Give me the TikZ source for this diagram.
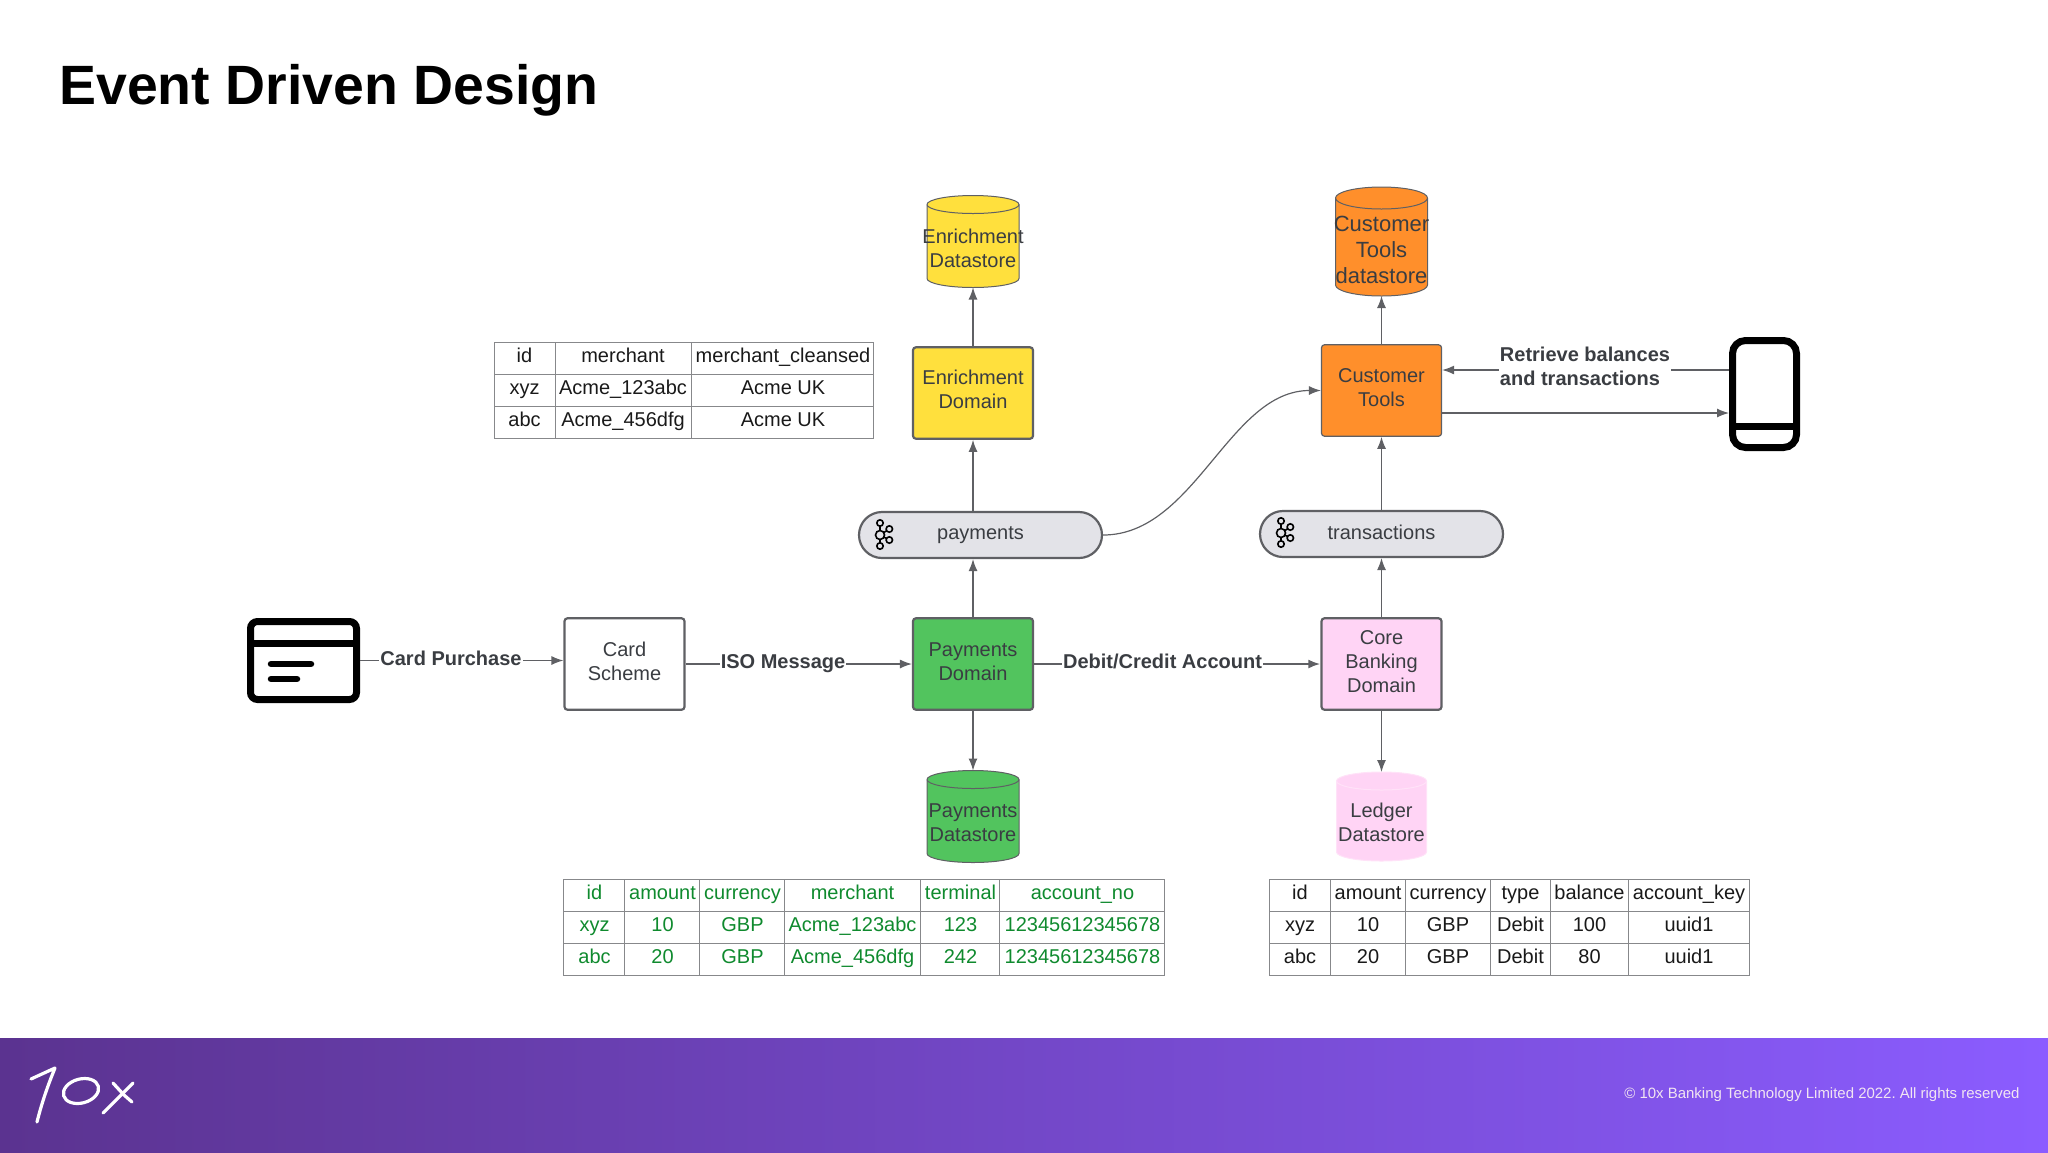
\documentclass[tikz,border=0pt]{standalone}
\usepackage{fontspec}
\setmainfont{Liberation Sans}
\usetikzlibrary{arrows.meta}
\definecolor{jaune}{HTML}{FFE03D}
\definecolor{orange}{HTML}{FF8F2B}
\definecolor{vert}{HTML}{52C45E}
\definecolor{rose}{HTML}{FFD4F5}
\definecolor{rosepale}{HTML}{FFE2F8}
\definecolor{gris}{HTML}{E3E3E8}
\definecolor{encre}{HTML}{3A3D42}
\definecolor{trait}{HTML}{5F6064}
\definecolor{vertfonce}{HTML}{0F8A2E}
\definecolor{bandeg}{HTML}{5B3390}
\definecolor{banded}{HTML}{8B5CFF}
\frenchspacing
\begin{document}
\begin{tikzpicture}[x=0.5pt,y=-0.5pt]
% Styles
\tikzstyle{cadre}=[line width=0.5pt,draw=trait!75]
\tikzstyle{fleche}=[-{Latex[length=6pt,width=4.5pt]},line width=0.6pt,draw=trait,color=trait]
\tikzstyle{corps}=[font=\fontsize{10}{12}\selectfont,text=encre,align=center]
\tikzstyle{boite}=[corps,draw=trait,line width=1.1pt,rounded corners=1.5pt,minimum width=60pt,minimum height=45.75pt,inner sep=0pt,text depth=3pt]
\tikzstyle{pilule}=[corps,draw=trait,fill=gris,line width=1.1pt,rounded corners=11.5pt,minimum width=121.5pt,minimum height=23pt,inner sep=0pt]
\tikzstyle{cuve}=[minimum width=46pt,minimum height=46pt,inner sep=0pt,outer sep=0pt]
\tikzstyle{etiquette}=[font=\fontsize{10}{12}\selectfont\bfseries,text=encre,fill=white,inner sep=0.5pt]
\tikzstyle{cellule}=[font=\fontsize{10}{12}\selectfont,anchor=base,inner sep=0pt,text=black!90]
\tikzstyle{icone}=[draw=black,line width=3.5pt,inner sep=0pt]
\tikzstyle{plume}=[draw=white,line width=1.6pt,line cap=round,line join=round]
% Bande du bas
\useasboundingbox (0,0) rectangle (2048,1152);
\shade[left color=bandeg,right color=banded] (0,1038) rectangle (2048,1152);
\node[anchor=base east,font=\fontsize{7.48}{9}\selectfont,text=white!90!violet,inner sep=0pt] (droits) at (2020,1098) {© 10x Banking Technology Limited 2022. All rights reserved};
% Logo
\draw[plume] (31,1079) -- (55,1068) .. controls (48,1085) and (42,1102) .. (37,1122);
\draw[plume,rotate around={15:(81,1091)}] (81,1091) ellipse (18 and 12);
\draw[plume] (113,1083) -- (124,1095) -- (132,1102);
\draw[plume] (133,1083) -- (103,1113);
% Titre
\node[anchor=base west,font=\fontsize{27.7}{32}\selectfont\bfseries,text=black,inner sep=0pt] (titre) at (59,104) {Event Driven Design};
% Icones
\node[icone,rounded corners=3.5pt,minimum width=53pt,minimum height=39pt] (carte) at (303.5,660.5) {};
\draw[draw=black,line width=3.5pt] (carte.west |- 0,643) -- (carte.east |- 0,643);
\draw[draw=black,line width=3.25pt,line cap=round] (271,664) -- (311,664);
\draw[draw=black,line width=3.25pt,line cap=round] (271,679) -- (297,679);
\node[icone,rounded corners=6.5pt,minimum width=32pt,minimum height=53.5pt] (phone) at (1764.5,394) {};
\draw[draw=black,line width=3.5pt] (phone.west |- 0,426) -- (phone.east |- 0,426);
% Domaines
\node[boite,fill=white] (cs) at (624.5,664) {Card\\Scheme};
\node[boite,fill=vert,text depth=2.5pt] (pd) at (973,664) {Payments\\Domain};
\node[boite,fill=rose,text depth=2pt] (cb) at (1381.5,664) {Core\\Banking\\Domain};
\node[boite,fill=jaune,text depth=4pt] (ed) at (973,393) {Enrichment\\Domain};
\node[boite,fill=orange,line width=0.6pt] (ct) at (1381.5,390.5) {Customer\\Tools};
% Topics
\node[pilule] (payments) at (980.5,535) {payments};
\node[pilule,text depth=2.1pt] (transactions) at (1381.5,534) {transactions};
\foreach \ox/\oy in {0/0,401/-2} {
  \begin{scope}[shift={(\ox,\oy)},draw=black,line width=0.8pt]
    \draw (880,523) -- (880,546) (889.3,529) -- (880,535) -- (889.3,540);
    \foreach \rx/\ry/\rr in {880/523/3.2,880/546/3.2,889.3/529/3.2,889.3/540/3.2,880/535/4.5}
      \draw[fill=gris] (\rx,\ry) circle (\rr);
  \end{scope}
}
% Bases
\node[cuve] (eds) at (973,241.5) {};
\node[cuve,minimum height=54.5pt] (cds) at (1381.5,241.5) {};
\node[cuve] (pds) at (973,816.5) {};
\node[cuve,minimum width=45pt,minimum height=44.5pt] (lds) at (1381.5,816.5) {};
\foreach \nom/\teinte/\bord/\lx/\ly in {eds/jaune/trait/23pt/4.5pt,cds/orange/trait/23pt/5.5pt,pds/vert/trait/23pt/4.5pt,lds/rose/rosepale/22.5pt/4.5pt} {
  \draw[draw=\bord,line width=0.5pt,fill=\teinte] ([yshift=-\ly]\nom.north west)
    arc[start angle=180,end angle=0,x radius=\lx,y radius=\ly]
    -- ([yshift=\ly]\nom.south east)
    arc[start angle=0,end angle=-180,x radius=\lx,y radius=\ly] -- cycle;
  \draw[draw=\bord,line width=0.5pt] ([yshift=-\ly]\nom.north west)
    arc[start angle=180,end angle=360,x radius=\lx,y radius=\ly];
}
\node[corps] (edst) at (973,248) {Enrichment\\Datastore};
\node[corps,font=\fontsize{11}{13.2}\selectfont] (cdst) at (1381.5,250) {Customer\\Tools\\datastore};
\node[corps] (pdst) at (973,823) {Payments\\Datastore};
\node[corps] (ldst) at (1381.5,822) {Ledger\\Datastore};
% Fleches
\draw[fleche] (carte.east) -- (carte.east -| cs.west);
\draw[fleche] (cs.east) -- (pd.west);
\draw[fleche,line width=1.1pt] (pd.east) -- (cb.west);
\draw[fleche] (ed.north) -- (eds.south);
\draw[fleche] (ct.north) -- (cds.south);
\draw[fleche] (pd.south) -- (pds.north);
\draw[fleche] (cb.south) -- (lds.north);
\draw[fleche] (pd.north) -- (pd.north |- payments.south);
\draw[fleche] (ed.south |- payments.north) -- (ed.south);
\draw[fleche] (cb.north) -- (transactions.south);
\draw[fleche] (transactions.north) -- (ct.south);
\draw[fleche] (payments.east) to[out=0,in=180,looseness=0.9] (ct.west);
\coordinate (ph1) at ([yshift=12pt]phone.west);
\coordinate (ph2) at ([yshift=-9.5pt]phone.west);
\draw[fleche] (ph1) -- (ph1 -| ct.east);
\draw[fleche] (ph2 -| ct.east) -- (ph2);
% Etiquettes
\node[etiquette] (achat) at (451,658) {Card Purchase};
\node[etiquette] (iso) at (783,663.5) {ISO Message};
\node[etiquette] (debit) at (1162.5,661) {Debit/Credit Account};
\node[etiquette,align=left] (soldes) at (1585,366) {Retrieve balances\\and transactions};
% Table enrichissement
\foreach \cx/\tA/\tB/\tC [count=\n] in {524.5/id/xyz/abc,623/merchant/Acme\_123abc/Acme\_456dfg,783/merchant\_cleansed/Acme UK/Acme UK} {
  \node[cellule] (ea\n) at (\cx,362.5) {\tA};
  \node[cellule] (eb\n) at (\cx,394.5) {\tB};
  \node[cellule] (ec\n) at (\cx,426.5) {\tC};
}
\draw[cadre] (494,342) rectangle (873,438);
\foreach \lx in {555,691} \draw[cadre] (\lx,342) -- (\lx,438);
\foreach \ly in {374,406} \draw[cadre] (494,\ly) -- (873,\ly);
% Table paiements
\foreach \cx/\tA/\tB/\tC [count=\n] in {594.5/id/xyz/abc,662.5/amount/10/20,742.5/currency/GBP/GBP,852.5/merchant/Acme\_123abc/Acme\_456dfg,960.5/terminal/123/242,1082.5/account\_no/12345612345678/12345612345678} {
  \node[cellule,text=vertfonce] (pa\n) at (\cx,899) {\tA};
  \node[cellule,text=vertfonce] (pb\n) at (\cx,931) {\tB};
  \node[cellule,text=vertfonce] (pc\n) at (\cx,963) {\tC};
}
\draw[cadre] (563.5,879) rectangle (1164.5,975);
\foreach \lx in {624,699.5,784,920.5,999.5} \draw[cadre] (\lx,879) -- (\lx,975);
\foreach \ly in {911,943} \draw[cadre] (563.5,\ly) -- (1164.5,\ly);
% Table grand livre
\foreach \cx/\tA/\tB/\tC [count=\n] in {1300/id/xyz/abc,1368/amount/10/20,1448/currency/GBP/GBP,1520.5/type/Debit/Debit,1589.5/balance/100/80,1689/account\_key/uuid1/uuid1} {
  \node[cellule] (la\n) at (\cx,899) {\tA};
  \node[cellule] (lb\n) at (\cx,931) {\tB};
  \node[cellule] (lc\n) at (\cx,963) {\tC};
}
\draw[cadre] (1269,879) rectangle (1749,975);
\foreach \lx in {1330,1405,1490,1550,1628} \draw[cadre] (\lx,879) -- (\lx,975);
\foreach \ly in {911,943} \draw[cadre] (1269,\ly) -- (1749,\ly);
\end{tikzpicture}
\end{document}
